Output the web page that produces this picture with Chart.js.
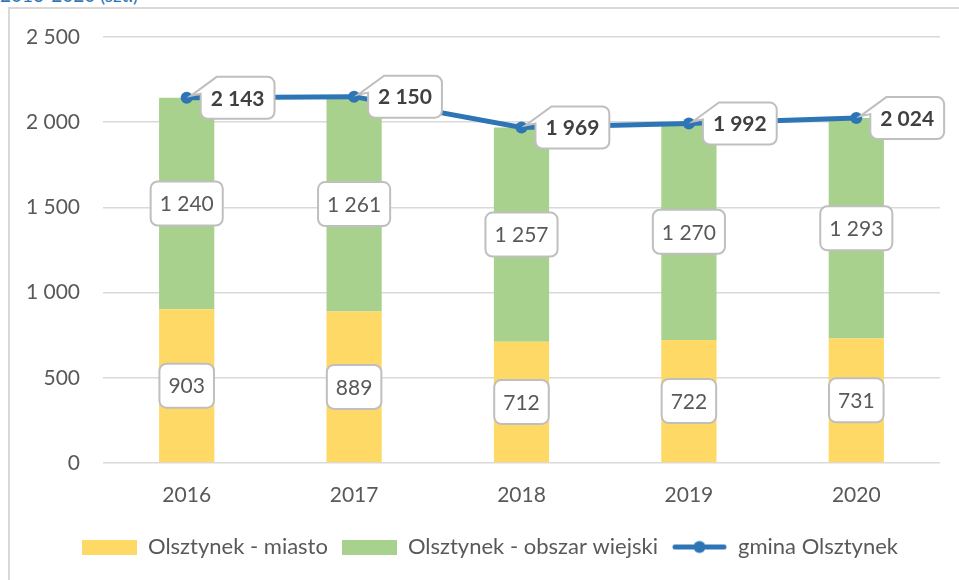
<!DOCTYPE html>
<html>
<head>
<meta charset="utf-8">
<script src="https://cdn.jsdelivr.net/npm/chart.js@4.4.1/dist/chart.umd.min.js"></script>
<style>
  html, body { margin: 0; padding: 0; background: #fff; overflow: hidden; }
  #wrap { position: relative; width: 959px; height: 580px; }
  #cap { position: absolute; left: 0; top: -15px; font: 19px Lato, sans-serif; color: #2F75B5; line-height: 20px; white-space: nowrap; }
  #frame { position: absolute; left: 8px; top: 7px; width: 960px; height: 580px; border-left: 2px solid #D9D9D9; border-top: 2px solid #D9D9D9; }
  #box { position: absolute; left: 0; top: 0; width: 959px; height: 580px; }
</style>
</head>
<body>
<div id="wrap">
  <div id="cap">2016-2020 (szt.)</div>
  <div id="frame"></div>
  <div id="box"><canvas id="chart"></canvas></div>
</div>
<script>
var years = ['2016', '2017', '2018', '2019', '2020'];
var miasto = [903, 889, 712, 722, 731];
var wiejski = [1240, 1261, 1257, 1270, 1293];
var gmina = [2143, 2150, 1969, 1992, 2024];
var yTicks = [0, 500, 1000, 1500, 2000, 2500];

var YELLOW = '#FFD966';
var GREEN = '#A9D18E';
var BLUE = '#2E75B6';
var TEXT = '#595959';
var FONT = 'Lato, sans-serif';

function fmt(v){
	return String(v).replace(/\B(?=(\d{3})+(?!\d))/g, ' ');
}

// legend swatches drawn into small canvases
function swatch(color, isLine){
	let c = document.createElement('canvas');
	c.width = 55;
	c.height = 15;
	let g = c.getContext('2d');
	if(isLine){
		g.strokeStyle = color;
		g.lineWidth = 5;
		g.lineCap = 'round';
		g.beginPath();
		g.moveTo(3, 7.5);
		g.lineTo(52, 7.5);
		g.stroke();
		g.fillStyle = color;
		g.beginPath();
		g.arc(27.5, 7.5, 6, 0, Math.PI * 2);
		g.fill();
	}else{
		g.fillStyle = color;
		g.fillRect(0, 0, 55, 15);
	}
	return c;
}

function roundBox(ctx, x, y, w, h, r){
	ctx.beginPath();
	ctx.moveTo(x + r, y);
	ctx.arcTo(x + w, y, x + w, y + h, r);
	ctx.arcTo(x + w, y + h, x, y + h, r);
	ctx.arcTo(x, y + h, x, y, r);
	ctx.arcTo(x, y, x + w, y, r);
	ctx.closePath();
}

function drawBarLabel(ctx, cx, cy, txt){
	ctx.font = '21px ' + FONT;
	let w = ctx.measureText(txt).width + 18;
	let h = 44;
	roundBox(ctx, cx - w / 2, cy - h / 2, w, h, 7);
	ctx.fillStyle = '#fff';
	ctx.fill();
	ctx.lineWidth = 2;
	ctx.strokeStyle = '#BFBFBF';
	ctx.stroke();
	ctx.fillStyle = TEXT;
	ctx.textAlign = 'center';
	ctx.textBaseline = 'middle';
	ctx.fillText(txt, cx, cy + 1);
}

function drawCallout(ctx, px, py, txt){
	ctx.font = 'bold 21px ' + FONT;
	let w = ctx.measureText(txt).width + 20;
	let h = 42;
	let x = px + 14;
	let y = py - h / 2;
	let r = 7;
	ctx.beginPath();
	ctx.moveTo(x + 16, y);
	ctx.arcTo(x + w, y, x + w, y + h, r);
	ctx.arcTo(x + w, y + h, x, y + h, r);
	ctx.arcTo(x, y + h, x, y, r);
	ctx.lineTo(x, y + 17);
	ctx.lineTo(px + 4, py - 2);
	ctx.closePath();
	ctx.fillStyle = '#fff';
	ctx.fill();
	ctx.lineWidth = 2;
	ctx.strokeStyle = '#BFBFBF';
	ctx.stroke();
	ctx.fillStyle = '#404040';
	ctx.textAlign = 'center';
	ctx.textBaseline = 'middle';
	ctx.fillText(txt, x + w / 2, py + 1);
}

var boxLabels = {
	id: 'boxLabels',
	afterLayout(chart){
		// legend sits a bit right of centre in the original
		if(chart.legend){
			chart.legend.left += 20;
			chart.legend.right += 20;
		}
	},
	afterDatasetsDraw(chart){
		let ctx = chart.ctx;
		ctx.save();
		chart.data.datasets.forEach(function(ds, i){
			let meta = chart.getDatasetMeta(i);
			meta.data.forEach(function(el, j){
				let txt = fmt(ds.data[j]);
				if(ds.type === 'line'){
					drawCallout(ctx, el.x, el.y, txt);
				}else{
					let p = el.getProps(['x', 'y', 'base'], true);
					drawBarLabel(ctx, p.x, (p.y + p.base) / 2, txt);
				}
			});
		});
		ctx.restore();
	}
};

var data = {
	labels: years,
	datasets: [
		{
			type: 'bar',
			label: 'Olsztynek - miasto',
			data: miasto,
			backgroundColor: YELLOW,
			stack: 'a',
			order: 1,
			categoryPercentage: 1,
			barPercentage: 0.33
		},
		{
			type: 'bar',
			label: 'Olsztynek - obszar wiejski',
			data: wiejski,
			backgroundColor: GREEN,
			stack: 'a',
			order: 1,
			categoryPercentage: 1,
			barPercentage: 0.33
		},
		{
			type: 'line',
			label: 'gmina Olsztynek',
			data: gmina,
			borderColor: BLUE,
			backgroundColor: BLUE,
			borderWidth: 5,
			pointRadius: 6,
			pointBackgroundColor: BLUE,
			pointBorderWidth: 0,
			tension: 0,
			stack: 'total',
			order: 0
		}
	]
};

var swatches = [swatch(YELLOW, false), swatch(GREEN, false), swatch(BLUE, true)];

var config = {
	type: 'bar',
	data: data,
	options: {
		responsive: true,
		maintainAspectRatio: false,
		animation: false,
		layout: {
			padding: {left: 0, right: 19, top: 37, bottom: 12}
		},
		plugins: {
			tooltip: {enabled: false},
			legend: {
				position: 'bottom',
				labels: {
					usePointStyle: true,
					pointStyleWidth: 55,
					boxHeight: 15,
					padding: 14,
					color: TEXT,
					font: {family: FONT, size: 22},
					generateLabels: function(chart){
						return chart.data.datasets.map(function(ds, i){
							return {
								text: ds.label,
								pointStyle: swatches[i],
								fillStyle: 'transparent',
								strokeStyle: 'transparent',
								lineWidth: 0,
								fontColor: TEXT,
								datasetIndex: i
							};
						});
					}
				}
			}
		},
		scales: {
			x: {
				stacked: true,
				grid: {display: false},
				border: {display: false},
				ticks: {color: TEXT, font: {family: FONT, size: 21}, padding: 12},
				afterFit: function(scale){ scale.height = 59; }
			},
			y: {
				stacked: true,
				min: 0,
				max: 2500,
				afterBuildTicks: function(scale){
					scale.ticks = yTicks.map(function(v){ return {value: v}; });
				},
				grid: {color: '#D9D9D9', lineWidth: 1.5, drawTicks: false},
				border: {display: false},
				ticks: {
					color: TEXT,
					font: {family: FONT, size: 21},
					padding: 23,
					callback: function(v){ return fmt(v); }
				},
				afterFit: function(scale){ scale.width = 103; }
			}
		}
	},
	plugins: [boxLabels]
};

var chart = new Chart(document.getElementById('chart'), config);
</script>
</body>
</html>
